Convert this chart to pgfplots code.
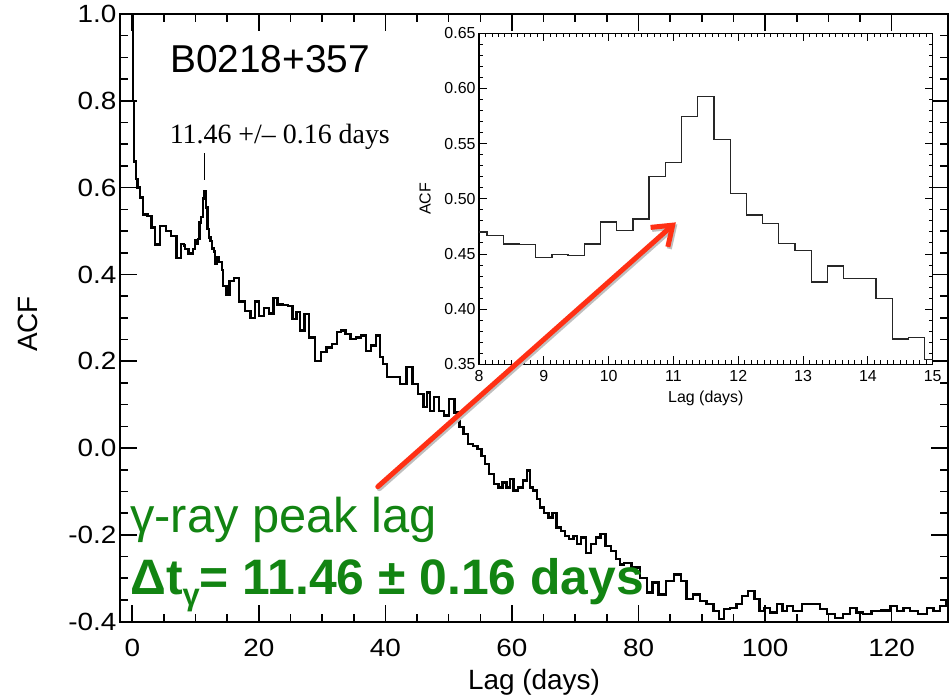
\documentclass[border=0pt]{standalone}
\usepackage{fontspec}
\setmainfont{Liberation Sans}
\newfontfamily\seriffont{Liberation Serif}
\newfontfamily\tickfont[FakeStretch=1.12]{Liberation Sans}
\usepackage{pgfplots}
\pgfplotsset{compat=1.18}
\usetikzlibrary{arrows.meta}
\definecolor{anngreen}{RGB}{18,132,18}
\definecolor{arrred}{RGB}{255,48,20}

\pgfplotstableread{
lag acf
0 1.00
0.2 0.80
0.45 0.66
0.7 0.62
0.95 0.60
1.48 0.577
2.0 0.538
2.8 0.535
3.3 0.508
3.85 0.469
4.9 0.511
5.7 0.500
6.5 0.489
7.5 0.438
8.0 0.470
8.25 0.467
8.5 0.459
8.75 0.459
9.0 0.447
9.25 0.449
9.5 0.448
9.75 0.459
10.0 0.479
10.25 0.471
10.5 0.482
10.75 0.520
11.0 0.533
11.25 0.575
11.5 0.593
11.75 0.554
12.0 0.505
12.25 0.485
12.5 0.477
12.75 0.460
13.0 0.453
13.25 0.425
13.5 0.439
13.75 0.428
14.0 0.428
14.25 0.410
14.5 0.373
14.75 0.374
15.0 0.354
15.7 0.385
16.5 0.392
17.3 0.338
18.3 0.315
19.1 0.300
19.7 0.338
20.4 0.304
21.2 0.323
22.0 0.310
22.6 0.346
23.3 0.331
24.4 0.330
24.9 0.328
25.7 0.297
26.2 0.313
26.8 0.271
27.6 0.309
28.3 0.255
29.4 0.201
30.2 0.221
31.2 0.232
32.0 0.240
32.6 0.267
33.3 0.271
34.1 0.263
34.9 0.251
35.7 0.255
36.5 0.259
37.3 0.224
38.1 0.236
38.9 0.259
39.4 0.209
39.9 0.194
40.7 0.163
41.8 0.163
42.8 0.148
43.9 0.186
44.7 0.148
45.7 0.125
46.3 0.094
46.8 0.128
47.3 0.086
48.1 0.117
48.9 0.086
49.7 0.075
50.5 0.113
51.3 0.082
52.1 0.048
52.6 0.032
53.4 0.009
54.2 0.005
54.9 -0.002
55.5 -0.018
56.0 -0.037
56.8 -0.060
57.6 -0.083
58.1 -0.091
58.9 -0.079
59.4 -0.091
60.0 -0.072
60.5 -0.098
61.3 -0.091
62.1 -0.075
62.6 -0.052
63.1 -0.091
63.6 -0.098
64.2 -0.118
64.7 -0.137
65.5 -0.149
66.0 -0.160
66.8 -0.149
67.3 -0.183
68.1 -0.191
68.6 -0.202
69.4 -0.210
70.0 -0.202
70.5 -0.221
71.3 -0.206
72.1 -0.241
72.9 -0.221
73.6 -0.206
74.4 -0.198
75.2 -0.225
76.0 -0.237
76.8 -0.256
77.3 -0.268
78.1 -0.264
79.7 -0.275
80.8 -0.299
81.8 -0.333
82.6 -0.310
83.7 -0.337
85.0 -0.306
86.3 -0.291
87.1 -0.306
88.1 -0.348
89.2 -0.337
90.2 -0.352
91.3 -0.360
92.4 -0.375
93.1 -0.394
93.9 -0.371
95.0 -0.368
96.0 -0.360
96.8 -0.341
97.9 -0.329
98.7 -0.348
99.5 -0.375
100.3 -0.368
101.3 -0.379
102.4 -0.360
103.1 -0.375
103.9 -0.364
105.0 -0.375
106.6 -0.360
108.2 -0.360
109.2 -0.371
110.3 -0.383
111.8 -0.391
112.9 -0.383
113.9 -0.368
115.0 -0.379
116.0 -0.383
117.6 -0.375
119.2 -0.374
120.3 -0.364
121.3 -0.375
122.4 -0.368
123.4 -0.375
125.0 -0.383
126.1 -0.368
127.1 -0.375
128.2 -0.364
128.9 -0.352
}\maindata

\pgfplotstableread{
lag acf
8.0 0.470
8.25 0.467
8.5 0.459
8.75 0.4588
9.0 0.447
9.25 0.4494
9.5 0.4488
9.75 0.459
10.0 0.479
10.25 0.4712
10.5 0.4818
10.75 0.520
11.0 0.533
11.25 0.5748
11.5 0.593
11.75 0.5536
12.0 0.5045
12.25 0.4852
12.5 0.4773
12.75 0.4597
13.0 0.4533
13.25 0.4245
13.5 0.4391
13.75 0.4279
14.0 0.428
14.25 0.4097
14.5 0.373
14.75 0.374
15.0 0.3542
}\insetdata

\begin{document}
\begin{tikzpicture}

% main panel
\begin{axis}[
  at={(120bp,77.3bp)}, anchor=south west,
  scale only axis, width=828bp, height=607.7bp,
  xmin=-1.94, xmax=128.9, ymin=-0.4, ymax=1.0,
  xtick={0,20,40,60,80,100,120}, minor x tick num=3,
  ytick={-0.4,-0.2,0,0.2,0.4,0.6,0.8,1.0}, minor y tick num=3,
  tick align=inside, tick pos=both,
  major tick length=17bp, minor tick length=8bp,
  every tick/.style={black, line width=1.6bp},
  axis line style={line width=2bp},
  /pgf/number format/assume math mode=true,
  ticklabel style={font=\tickfont\fontsize{25}{30}\selectfont},
  xticklabel style={yshift=-14bp},
  yticklabel style={/pgf/number format/.cd, fixed, fixed zerofill, precision=1},
  xlabel={Lag (days)}, ylabel={ACF},
  label style={font=\fontsize{28}{32}\selectfont},
  xlabel style={at={(axis description cs:0.5,0)}, anchor=center, yshift=-61bp},
  ylabel style={at={(axis description cs:-0.111,0.49)}, anchor=center},
]
\addplot[const plot mark mid, black, line width=2.3bp] table[x=lag, y=acf] {\maindata};

\node[anchor=base west, font=\fontsize{39}{44}\selectfont, inner sep=0pt]
  at (axis cs:5.97,0.866) {B0218+357};
\node[anchor=base west, font=\seriffont\fontsize{28}{32}\selectfont, inner sep=0pt]
  at (axis cs:5.9,0.702) {11.46 +/– 0.16 days};
\draw[line width=1.3bp] (axis cs:11.36,0.679) -- (axis cs:11.36,0.617);

\node[anchor=base west, text=anngreen, font=\fontsize{49}{52}\selectfont, inner sep=0pt]
  at (axis cs:-0.36,-0.195) {γ-ray peak lag};
\node[anchor=base west, text=anngreen, font=\bfseries\fontsize{50}{54}\selectfont, inner sep=0pt]
  at (axis cs:-0.36,-0.337) {Δt\raisebox{-0.22em}{\fontsize{31}{31}\selectfont γ}= 11.46 ± 0.16 days};

\coordinate (arrS) at (axis cs:38.8,-0.089);
\coordinate (arrE) at (axis cs:85.9,0.520);
\end{axis}

% inset
\begin{axis}[
  at={(479bp,334.7bp)}, anchor=south west,
  scale only axis, width=453.7bp, height=331bp,
  xmin=8, xmax=15, ymin=0.35, ymax=0.65,
  xtick={8,9,10,11,12,13,14,15}, minor x tick num=9,
  ytick={0.35,0.40,0.45,0.50,0.55,0.60,0.65}, minor y tick num=4,
  tick align=inside, tick pos=both,
  major tick length=8bp, minor tick length=4bp,
  every tick/.style={black, line width=0.9bp},
  axis line style={line width=1.2bp},
  axis background/.style={fill=white},
  /pgf/number format/assume math mode=true,
  ticklabel style={font=\fontsize{16}{19}\selectfont},
  xticklabel style={yshift=-3bp},
  yticklabel style={/pgf/number format/.cd, fixed, fixed zerofill, precision=2},
  xlabel={Lag (days)}, ylabel={ACF},
  label style={font=\fontsize{16}{19}\selectfont},
  xlabel style={at={(axis description cs:0.5,0)}, anchor=center, yshift=-34bp},
  ylabel style={at={(axis description cs:-0.119,0.5)}, anchor=center},
]
\addplot[const plot mark mid, black!85, line width=1.3bp] table[x=lag, y=acf] {\insetdata};
\end{axis}

\draw[black!25, line width=5bp, line cap=round, -{Straight Barb[length=18bp, width=26bp]}]
  ([shift={(1.5bp,-2bp)}]arrS) -- ([shift={(1.5bp,-2bp)}]arrE);
\draw[arrred, line width=5bp, line cap=round, -{Straight Barb[length=18bp, width=26bp]}]
  (arrS) -- (arrE);

\pgfresetboundingbox
\path[use as bounding box] (0,0) rectangle (949bp,699bp);
\end{tikzpicture}
\end{document}
